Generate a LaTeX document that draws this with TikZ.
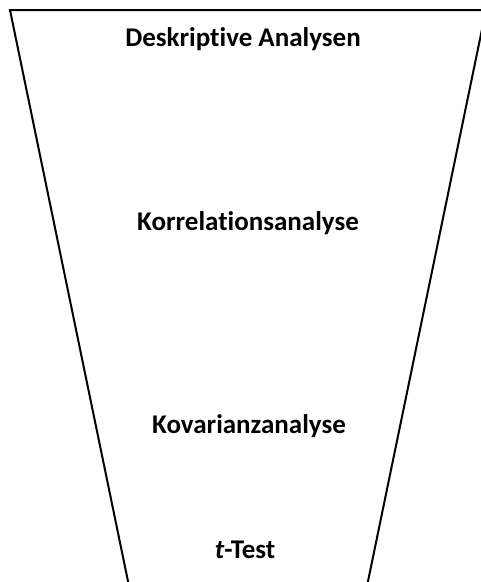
\documentclass[tikz,border=0pt]{standalone}
\usepackage{fontspec}
\setmainfont{Carlito}[Ligatures={NoCommon}]
\begin{document}
\begin{tikzpicture}[x=1pt, y=-1pt,
  stage/.style={font=\bfseries\fontsize{27}{32}\selectfont, anchor=base, inner sep=0pt}]

\useasboundingbox (0,0) rectangle (481,582);
\clip (0,0) rectangle (481,582);

% funnel
\draw[line width=2pt, line join=miter] (136,620) -- (10,10) -- (486,10) -- (360,620);

\node[stage] (desk) at (243,46) {Deskriptive Analysen};
\node[stage] (korr) at (248,230) {Korrelationsanalyse};
\node[stage] (kova) at (249,433) {Kovarianzanalyse};
\node[stage] (ttest) at (245,558) {\textit{t}-Test};
\end{tikzpicture}
\end{document}
